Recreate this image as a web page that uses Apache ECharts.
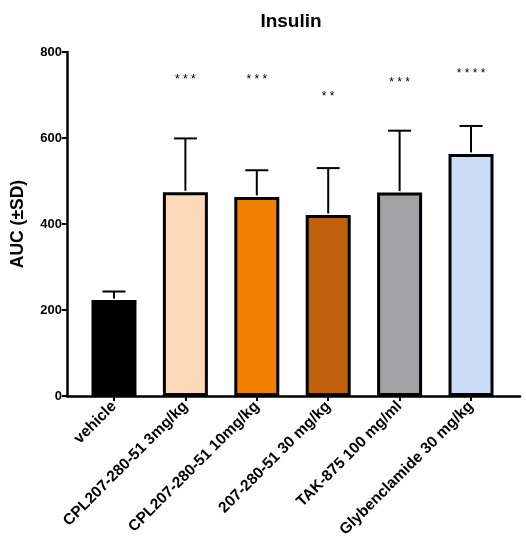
<!DOCTYPE html>
<html><head><meta charset="utf-8">
<script src="https://cdn.jsdelivr.net/npm/echarts@6/dist/echarts.min.js"></script>
<style>html,body{margin:0;padding:0;background:#fff}#c{width:526px;height:558px}</style>
</head><body><div id="c"></div>
<script>
var categories = ['vehicle','CPL207-280-51 3mg/kg','CPL207-280-51 10mg/kg','207-280-51 30 mg/kg','TAK-875 100 mg/ml','Glybenclamide 30 mg/kg'];
var means = [223, 474, 463, 421, 473, 563];
var upperSD = [243, 599, 525, 530, 617, 628];
var stars = ['', '***', '***', '**', '***', '****'];
var starLevels = [null, 735, 735, 695, 728, 749];
var colors = ['#000000', '#FCD9B9', '#F07F00', '#C0600A', '#A2A2A6', '#C9DDF6'];
var yTicks = [0, 200, 400, 600, 800];

var FONT = 'Liberation Sans, Arial, sans-serif';
var chart = echarts.init(document.getElementById('c'));
var idx = categories.map(function (_, i) { return i; });

chart.setOption({
  animation: false,
  title: { text: 'Insulin', left: 286, top: 7, textAlign: 'center',
    textStyle: { fontFamily: FONT, fontSize: 19, fontWeight: 'bold', color: '#000' } },
  grid: { left: 67, right: 6, top: 52, bottom: 162 },
  xAxis: {
    type: 'value', min: -0.658, max: 5.686,
    splitLine: { show: false },
    axisLine: { show: true, onZero: false, lineStyle: { color: '#000', width: 2.5 } },
    axisTick: { show: true, customValues: idx, length: 5, lineStyle: { color: '#000', width: 2 } },
    axisLabel: { show: true, customValues: idx, rotate: 45, margin: 8,
      fontFamily: FONT, fontSize: 15.5, fontWeight: 'bold', color: '#000',
      formatter: function (v) { return categories[Math.round(v)]; } }
  },
  yAxis: {
    type: 'value', min: 0, max: 800, interval: 200,
    name: 'AUC (±SD)', nameLocation: 'middle', nameGap: 40, nameRotate: 90,
    nameTextStyle: { fontFamily: FONT, fontSize: 17.5, fontWeight: 'bold', color: '#000' },
    splitLine: { show: false },
    axisLine: { show: true, onZero: false, lineStyle: { color: '#000', width: 2.5 } },
    axisTick: { show: true, inside: false, length: 5, lineStyle: { color: '#000', width: 2 } },
    axisLabel: { fontFamily: FONT, fontSize: 13, fontWeight: 'bold', color: '#000', margin: 5 }
  },
  series: [
    {
      type: 'bar', barWidth: 45,
      data: means.map(function (m, i) {
        return { value: [i, m], itemStyle: { color: colors[i], borderColor: '#000', borderWidth: 3 } };
      }),
      z: 2
    },
    {
      type: 'custom', z: 3,
      data: means.map(function (m, i) { return [i, m, upperSD[i]]; }),
      renderItem: function (params, api) {
        var x = api.value(0);
        var p0 = api.coord([x, api.value(1)]);
        var p1 = api.coord([x, api.value(2)]);
        var half = 11.5;
        return { type: 'group', children: [
          { type: 'line', shape: { x1: p0[0], y1: p0[1] - 1.5, x2: p1[0], y2: p1[1] }, style: { stroke: '#000', lineWidth: 2 } },
          { type: 'line', shape: { x1: p1[0] - half, y1: p1[1], x2: p1[0] + half, y2: p1[1] }, style: { stroke: '#000', lineWidth: 2 } }
        ] };
      }
    },
    {
      type: 'custom', z: 4,
      data: starLevels.map(function (s, i) { return [i, s === null ? 0 : s]; }),
      renderItem: function (params, api) {
        var i = params.dataIndex;
        if (!stars[i]) return null;
        var p = api.coord([api.value(0), api.value(1)]);
        return { type: 'text', style: { x: p[0], y: p[1], text: stars[i].split('').join(' '),
          align: 'center', verticalAlign: 'middle', fontFamily: FONT, fontSize: 12, fill: '#000' } };
      }
    }
  ]
});
</script></body></html>
